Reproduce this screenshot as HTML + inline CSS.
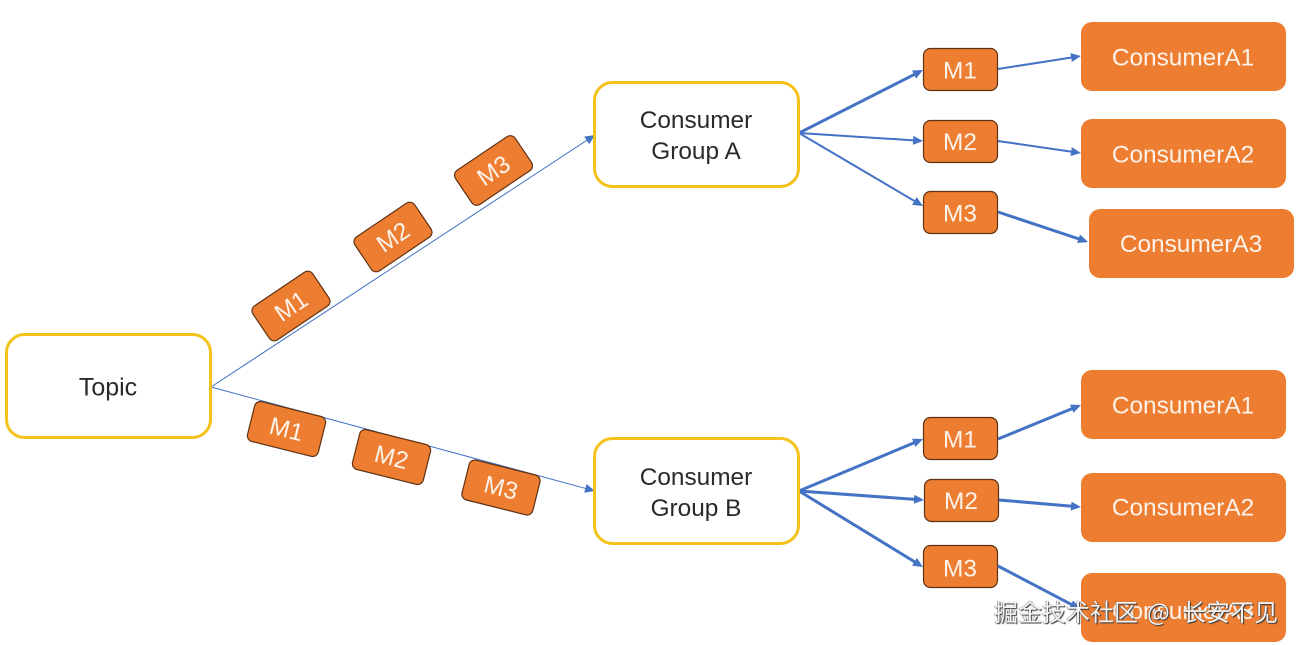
<!DOCTYPE html>
<html>
<head>
<meta charset="utf-8">
<style>
html,body{margin:0;padding:0;background:#fff;}
body{width:1298px;height:645px;overflow:hidden;position:relative;}
svg{position:absolute;left:0;top:0;}
text{font-family:"Liberation Sans","Noto Sans CJK SC",sans-serif;font-size:24.4px;text-anchor:middle;}
.o{fill:#ed7d31;}
.m{fill:#ed7d31;stroke:#5f3213;stroke-width:1.2;}
.y{fill:#fff;stroke:#f5c21c;stroke-width:3;}
.w{fill:#fdf3ea;}
.k{fill:#2a2a2a;}
.l{stroke:#4472c4;fill:none;}
.wm{position:absolute;left:0;top:0;font-family:"Noto Sans CJK SC","Liberation Sans",sans-serif;font-size:24px;line-height:30px;color:#f4f4f4;text-shadow:1px 1px 1px #333,-0.5px 0 0.5px #555;white-space:nowrap;}
</style>
</head>
<body>
<svg width="1298" height="645" viewBox="0 0 1298 645" xmlns="http://www.w3.org/2000/svg">
<defs>
<marker id="a" markerUnits="userSpaceOnUse" markerWidth="11" markerHeight="10" refX="7" refY="5" orient="auto"><path d="M0 0.5L10 5L0 9.5Z" fill="#4472c4"/></marker>
</defs>

<!-- thin connectors from Topic -->
<line class="l" x1="211" y1="387" x2="592.5" y2="136.6" stroke-width="1" marker-end="url(#a)"/>
<line class="l" x1="211" y1="387" x2="592.1" y2="490.2" stroke-width="1" marker-end="url(#a)"/>

<!-- group A connectors -->
<line class="l" x1="799" y1="133" x2="920.3" y2="71.4" stroke-width="3" marker-end="url(#a)"/>
<line class="l" x1="799" y1="133" x2="920" y2="140.8" stroke-width="2" marker-end="url(#a)"/>
<line class="l" x1="799" y1="133" x2="920.4" y2="204.5" stroke-width="2" marker-end="url(#a)"/>
<line class="l" x1="998" y1="69" x2="1078" y2="56.5" stroke-width="2" marker-end="url(#a)"/>
<line class="l" x1="998" y1="141" x2="1078" y2="152.6" stroke-width="2" marker-end="url(#a)"/>
<line class="l" x1="998" y1="212" x2="1085.2" y2="241" stroke-width="3" marker-end="url(#a)"/>

<!-- group B connectors -->
<line class="l" x1="799" y1="491" x2="920.2" y2="440.2" stroke-width="3" marker-end="url(#a)"/>
<line class="l" x1="799" y1="491" x2="921" y2="499.8" stroke-width="3" marker-end="url(#a)"/>
<line class="l" x1="799" y1="491" x2="920.4" y2="565.4" stroke-width="3" marker-end="url(#a)"/>
<line class="l" x1="998" y1="439" x2="1078.2" y2="406.1" stroke-width="3" marker-end="url(#a)"/>
<line class="l" x1="999" y1="500" x2="1078" y2="506.7" stroke-width="3" marker-end="url(#a)"/>

<!-- yellow nodes -->
<rect class="y" x="6.5" y="334.5" width="204" height="103" rx="18"/>
<text class="k" x="108" y="395.5" style="font-size:25px">Topic</text>
<rect class="y" x="594.5" y="82.5" width="204" height="104" rx="18"/>
<text class="k" x="696" y="128">Consumer</text>
<text class="k" x="696" y="159">Group A</text>
<rect class="y" x="594.5" y="438.5" width="204" height="105" rx="18"/>
<text class="k" x="696" y="485">Consumer</text>
<text class="k" x="696" y="516">Group B</text>

<!-- rotated messages, upper -->
<g transform="translate(291 306) rotate(-34)"><rect class="m" x="-36" y="-20.5" width="72" height="41" rx="6"/><text class="w" x="0" y="8.5">M1</text></g>
<g transform="translate(393 237) rotate(-34)"><rect class="m" x="-36" y="-20.5" width="72" height="41" rx="6"/><text class="w" x="0" y="8.5">M2</text></g>
<g transform="translate(493.5 170.5) rotate(-34)"><rect class="m" x="-36" y="-20.5" width="72" height="41" rx="6"/><text class="w" x="0" y="8.5">M3</text></g>

<!-- rotated messages, lower -->
<g transform="translate(286.5 429) rotate(14)"><rect class="m" x="-36.5" y="-20.5" width="73" height="41" rx="6"/><text class="w" x="0" y="8.5">M1</text></g>
<g transform="translate(391.5 457) rotate(14)"><rect class="m" x="-36.5" y="-20.5" width="73" height="41" rx="6"/><text class="w" x="0" y="8.5">M2</text></g>
<g transform="translate(501 487.5) rotate(14)"><rect class="m" x="-36.5" y="-20.5" width="73" height="41" rx="6"/><text class="w" x="0" y="8.5">M3</text></g>

<!-- straight messages -->
<rect class="m" x="923.5" y="48.5" width="74" height="42" rx="7"/><text class="w" x="960" y="78.5">M1</text>
<rect class="m" x="923.5" y="120.5" width="74" height="42" rx="7"/><text class="w" x="960" y="150">M2</text>
<rect class="m" x="923.5" y="191.5" width="74" height="42" rx="7"/><text class="w" x="960" y="221.5">M3</text>
<rect class="m" x="923.5" y="417.5" width="74" height="42" rx="7"/><text class="w" x="960" y="447.5">M1</text>
<rect class="m" x="924.5" y="479.5" width="74" height="42" rx="7"/><text class="w" x="961" y="509">M2</text>
<rect class="m" x="923.5" y="545.5" width="74" height="42" rx="7"/><text class="w" x="960" y="576.5">M3</text>

<!-- consumers -->
<rect class="o" x="1081" y="22" width="205" height="69" rx="11"/><text class="w" x="1183" y="65.5">ConsumerA1</text>
<rect class="o" x="1081" y="119" width="205" height="69" rx="11"/><text class="w" x="1183" y="162.5">ConsumerA2</text>
<rect class="o" x="1089" y="209" width="205" height="69" rx="11"/><text class="w" x="1191" y="252">ConsumerA3</text>
<rect class="o" x="1081" y="370" width="205" height="69" rx="11"/><text class="w" x="1183" y="413.5">ConsumerA1</text>
<rect class="o" x="1081" y="473" width="205" height="69" rx="11"/><text class="w" x="1183" y="515.5">ConsumerA2</text>
<rect class="o" x="1081" y="573" width="205" height="69" rx="11"/><text class="w" x="1183" y="619">ConsumerA3</text>

<line class="l" x1="998" y1="566" x2="1077.3" y2="607.6" stroke-width="3" marker-end="url(#a)"/>
</svg>

<div class="wm" style="left:994px;top:596px;">掘金技术社区</div>
<div class="wm" style="left:1147px;top:596px;">@</div>
<div class="wm" style="left:1182px;top:596px;">长安不见</div>
</body>
</html>
